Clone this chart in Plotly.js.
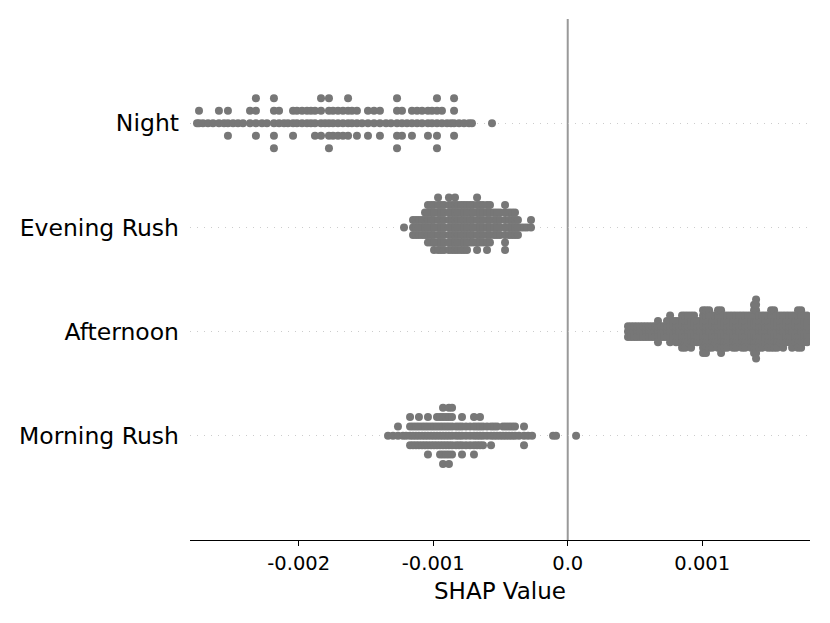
<!DOCTYPE html>
<html>
<head>
<meta charset="utf-8">
<script src="https://cdn.plot.ly/plotly-3.0.1.min.js"></script>
<style>
  body { margin: 0; background: #fff; }
  #myPlot { width: 830px; height: 623px; }
</style>
</head>
<body>
<div id="myPlot"></div>
<script>
// Feature rows, bottom to top
const categories = ['Morning Rush', 'Afternoon', 'Evening Rush', 'Night'];

// SHAP values: one entry per stacked column, with how many points sit in it
const nightShap = [-0.002756, -0.002741, -0.002712, -0.002674, -0.002637, -0.002593, -0.002555, -0.002526,
    -0.002488, -0.002451, -0.002414, -0.002362, -0.002318, -0.002273, -0.002236, -0.002184, -0.002146,
    -0.002109, -0.002080, -0.002042, -0.002013, -0.001975, -0.001938, -0.001909, -0.001879, -0.001834,
    -0.001804, -0.001775, -0.001745, -0.001708, -0.001671, -0.001633, -0.001604, -0.001567, -0.001529,
    -0.001485, -0.001440, -0.001396, -0.001351, -0.001314, -0.001269, -0.001232, -0.001195, -0.001158,
    -0.001120, -0.001083, -0.001039, -0.001009, -0.000972, -0.000935, -0.000897, -0.000868, -0.000845,
    -0.000808, -0.000771, -0.000734, -0.000712, -0.000563];
const nightCount = [1, 2, 1, 1, 1, 2, 1, 3,
    1, 1, 1, 2, 4, 1, 1, 5, 2,
    1, 1, 3, 2, 2, 2, 2, 3, 4,
    1, 5, 3, 3, 3, 4, 2, 3, 1,
    3, 2, 3, 1, 1, 5, 3, 1, 3,
    2, 2, 3, 2, 5, 2, 1, 1, 4,
    1, 1, 1, 1, 1];

const eveningShap = [-0.001217, -0.001150, -0.001128, -0.001106, -0.001083, -0.001061, -0.001039, -0.001016,
    -0.000994, -0.000964, -0.000942, -0.000920, -0.000883, -0.000860, -0.000838, -0.000816, -0.000793,
    -0.000771, -0.000749, -0.000726, -0.000704, -0.000674, -0.000652, -0.000630, -0.000600, -0.000578,
    -0.000548, -0.000526, -0.000503, -0.000466, -0.000436, -0.000414, -0.000392, -0.000370, -0.000347,
    -0.000325, -0.000303, -0.000273];
const eveningCount = [1, 3, 3, 3, 3, 4, 6, 6,
    7, 8, 7, 7, 8, 7, 8, 7, 7,
    7, 7, 6, 6, 8, 6, 6, 7, 6,
    4, 4, 4, 7, 4, 4, 4, 3, 1,
    1, 1, 2];

const afternoonShap = [0.000448, 0.000471, 0.000493, 0.000515, 0.000538, 0.000560, 0.000582, 0.000604,
    0.000627, 0.000649, 0.000671, 0.000694, 0.000716, 0.000738, 0.000761, 0.000783, 0.000805, 0.000828,
    0.000850, 0.000872, 0.000894, 0.000917, 0.000939, 0.000961, 0.000984, 0.001006, 0.001028, 0.001051,
    0.001073, 0.001095, 0.001117, 0.001140, 0.001162, 0.001184, 0.001207, 0.001229, 0.001251, 0.001274,
    0.001296, 0.001318, 0.001341, 0.001363, 0.001385, 0.001400, 0.001422, 0.001445, 0.001467, 0.001489,
    0.001512, 0.001534, 0.001556, 0.001578, 0.001601, 0.001623, 0.001645, 0.001668, 0.001690, 0.001712,
    0.001735, 0.001757, 0.001779];
const afternoonCount = [3, 3, 3, 3, 3, 3, 3, 3,
    3, 3, 5, 3, 3, 4, 6, 4, 5, 5,
    7, 7, 6, 7, 6, 5, 5, 9, 9, 8,
    7, 6, 8, 9, 7, 7, 6, 7, 7, 6,
    7, 7, 6, 7, 10, 12, 7, 7, 6, 7,
    8, 8, 7, 6, 7, 6, 6, 7, 6, 8,
    8, 6, 6];

const morningShap = [-0.001336, -0.001299, -0.001262, -0.001225, -0.001202, -0.001172, -0.001150, -0.001128,
    -0.001106, -0.001083, -0.001061, -0.001039, -0.001016, -0.000994, -0.000972, -0.000949, -0.000927,
    -0.000905, -0.000883, -0.000860, -0.000830, -0.000808, -0.000786, -0.000756, -0.000726, -0.000697,
    -0.000674, -0.000652, -0.000630, -0.000600, -0.000570, -0.000548, -0.000526, -0.000503, -0.000481,
    -0.000459, -0.000436, -0.000414, -0.000392, -0.000362, -0.000325, -0.000295, -0.000265, -0.000109,
    -0.000087, 0.000062];
const morningCount = [1, 1, 2, 1, 1, 4, 3, 3,
    4, 3, 3, 5, 3, 3, 4, 5, 7,
    5, 7, 6, 3, 3, 5, 3, 3, 5,
    3, 4, 3, 2, 3, 2, 2, 1, 2,
    2, 2, 2, 2, 1, 3, 1, 1, 1,
    1, 1];

const rowData = [
    { shap: morningShap, count: morningCount },
    { shap: afternoonShap, count: afternoonCount },
    { shap: eveningShap, count: eveningCount },
    { shap: nightShap, count: nightCount }
];

// Beeswarm stacking like shap: layers go 0, +1, -1, +2, -2 ...
const rowHeight = 0.4;
const traces = rowData.map((row, pos) => {
    const xs = [];
    const layers = [];
    row.shap.forEach((v, i) => {
        for (let layer = 0; layer < row.count[i]; layer++) {
            xs.push(v);
            layers.push(Math.ceil(layer / 2) * ((layer % 2) * 2 - 1));
        }
    });
    const maxLayer = Math.max(...layers);
    const scale = 0.9 * (rowHeight / (maxLayer + 1));
    return {
        x: xs,
        y: layers.map(l => pos + l * scale),
        mode: 'markers',
        type: 'scatter',
        name: categories[pos],
        marker: { size: 8, color: '#777777' },
        cliponaxis: true,
        hoverinfo: 'x'
    };
});

const layout = {
    width: 830,
    height: 623,
    margin: { l: 190, r: 20, t: 19, b: 83 },
    paper_bgcolor: '#ffffff',
    plot_bgcolor: '#ffffff',
    font: { family: 'DejaVu Sans', color: '#000000' },
    showlegend: false,
    xaxis: {
        range: [-0.002808, 0.001801],
        tickvals: [-0.002, -0.001, 0, 0.001],
        ticktext: ['-0.002', '-0.001', '0.0', '0.001'],
        tickfont: { size: 19.5 },
        ticks: 'outside',
        ticklen: 5,
        tickwidth: 1.2,
        tickcolor: '#000000',
        showline: true,
        linecolor: '#000000',
        linewidth: 1.3,
        showgrid: false,
        zeroline: false,
        title: { text: 'SHAP Value', font: { size: 23 }, standoff: 9 }
    },
    yaxis: {
        range: [-1, 4],
        tickvals: [0, 1, 2, 3],
        ticktext: categories,
        tickfont: { size: 23.5 },
        ticks: '',
        ticklabelstandoff: 10,
        showline: false,
        zeroline: false,
        showgrid: true,
        gridcolor: '#cccccc',
        gridwidth: 1,
        griddash: '1px,6px'
    },
    shapes: [{
        type: 'line',
        xref: 'x', yref: 'paper',
        x0: 0, x1: 0, y0: 0, y1: 1,
        line: { color: '#999999', width: 2 },
        layer: 'below'
    }]
};

Plotly.newPlot('myPlot', traces, layout, { displayModeBar: false });
</script>
</body>
</html>
